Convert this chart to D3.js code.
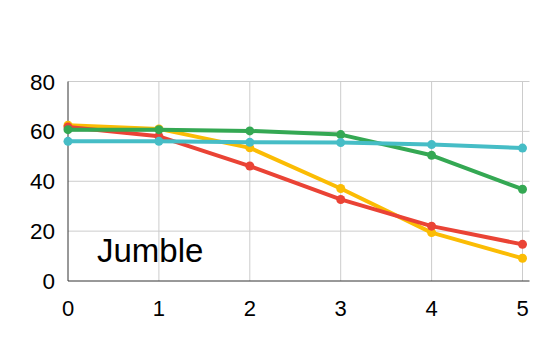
<!DOCTYPE html>
<html>
<head>
<meta charset="utf-8">
<script src="https://cdn.jsdelivr.net/npm/d3@7"></script>
<style>
  body { margin: 0; background: #fff; }
  text { font-family: "Liberation Sans", Arial, sans-serif; fill: #000; }
</style>
</head>
<body>
<svg width="546" height="338"></svg>
<script>
// waarden
var xTicks = [0, 1, 2, 3, 4, 5];
var yTicks = [0, 20, 40, 60, 80];
var yellow = [62.5, 61, 53.4, 37.1, 19.4, 9.1];
var red = [61.8, 58, 46.1, 32.7, 22, 14.7];
var green = [60.7, 60.7, 60.2, 58.7, 50.4, 36.8];
var cyan = [56, 56, 55.6, 55.5, 54.7, 53.3];

var series = [
    { name: "yellow", color: "#fbbc04", values: yellow },
    { name: "red", color: "#ea4335", values: red },
    { name: "green", color: "#34a853", values: green },
    { name: "cyan", color: "#46bdc6", values: cyan }
];

var svg = d3.select("svg");

var x = d3.scaleLinear().domain([0, 5]).range([68, 522.5]),
    y = d3.scaleLinear().domain([0, 80]).range([281, 81.5]);

// rasterlijnen
svg.append("g").selectAll("line")
    .data(yTicks.slice(1))
    .enter().append("line")
    .attr("x1", x(0)).attr("x2", 529.5)
    .attr("y1", function (d) { return y(d); })
    .attr("y2", function (d) { return y(d); })
    .attr("stroke", "#cccccc").attr("stroke-width", 1);

svg.append("g").selectAll("line")
    .data(xTicks.slice(1))
    .enter().append("line")
    .attr("x1", function (d) { return x(d); })
    .attr("x2", function (d) { return x(d); })
    .attr("y1", y(80)).attr("y2", y(0))
    .attr("stroke", "#cccccc").attr("stroke-width", 1);

// assen
svg.append("line")
    .attr("x1", x(0)).attr("x2", x(0))
    .attr("y1", y(80)).attr("y2", y(0))
    .attr("stroke", "#333").attr("stroke-width", 1);
svg.append("line")
    .attr("x1", x(0)).attr("x2", 529.5)
    .attr("y1", y(0)).attr("y2", y(0))
    .attr("stroke", "#333").attr("stroke-width", 1);

svg.append("g").selectAll("text")
    .data(yTicks)
    .enter().append("text")
    .attr("x", 55)
    .attr("y", function (d) { return y(d); })
    .attr("dy", "0.36em")
    .attr("text-anchor", "end")
    .style("font-size", "22.5px")
    .text(function (d) { return d; });

svg.append("g").selectAll("text")
    .data(xTicks)
    .enter().append("text")
    .attr("x", function (d) { return x(d); })
    .attr("y", 315.5)
    .attr("text-anchor", "middle")
    .style("font-size", "22px")
    .text(function (d) { return d; });

// lijnen
var line = d3.line()
    .x(function (d, i) { return x(xTicks[i]); })
    .y(function (d) { return y(d); });

series.forEach(function (s) {
    var g = svg.append("g");
    g.append("path")
        .datum(s.values)
        .attr("fill", "none")
        .attr("stroke", s.color)
        .attr("stroke-width", 4)
        .attr("stroke-linejoin", "round")
        .attr("d", line);
    g.selectAll("circle")
        .data(s.values)
        .enter().append("circle")
        .attr("cx", function (d, i) { return x(xTicks[i]); })
        .attr("cy", function (d) { return y(d); })
        .attr("r", 4.5)
        .attr("fill", s.color);
});

svg.append("text")
    .attr("x", 97)
    .attr("y", 262)
    .style("font-size", "33px")
    .text("Jumble");
</script>
</body>
</html>
